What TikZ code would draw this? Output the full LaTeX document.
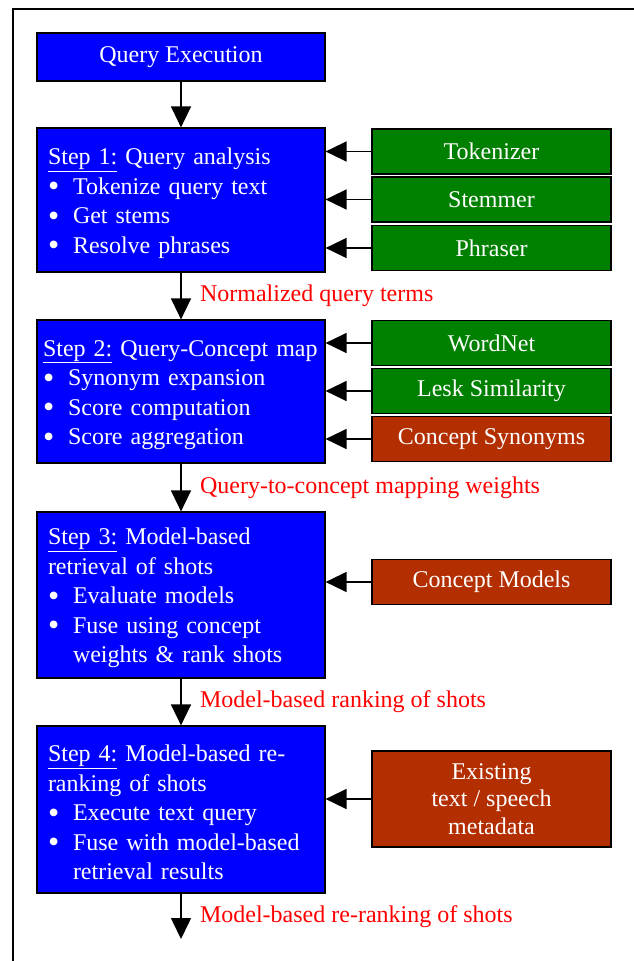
\documentclass[tikz,border=0pt]{standalone}
\usepackage{fontspec}
\setmainfont{Liberation Serif}
\usepackage{tikz}
\usetikzlibrary{arrows.meta,positioning}
\usepackage{xcolor}
\definecolor{stepblue}{RGB}{0,0,255}
\definecolor{toolgreen}{RGB}{0,128,0}
\definecolor{datared}{RGB}{179,46,0}
\newcommand{\stp}[1]{\rule{0pt}{23pt}\underline{Step #1:}}
\newcommand{\itm}{\makebox[25pt][l]{\raisebox{-2.5pt}{\fontsize{32}{32}\selectfont\textbullet}}}
\newcommand{\ind}{\hspace*{25pt}}

\begin{document}
\begin{tikzpicture}[x=1pt, y=-1pt,
    font=\fontsize{24}{29.5}\selectfont,
    box/.style={draw, rectangle, line width=1.2pt, text=white},
    stepbox/.style={box, fill=stepblue, minimum width=288pt, text width=266pt, align=left},
    toolbox/.style={box, fill=toolgreen, minimum width=239pt, minimum height=45pt, align=center},
    databox/.style={box, fill=datared, minimum width=239pt, minimum height=45pt, align=center},
    flow/.style={-{Triangle[length=21pt, width=20pt]}, line width=1.5pt},
    lbl/.style={anchor=west, xshift=15pt, text=red}]
    \useasboundingbox (0,0) rectangle (634,961);
    \draw[line width=1.2pt] (13,9) rectangle (700,1000);

    \node[box, fill=stepblue, minimum width=288pt, minimum height=48pt] (exec) at (181,57) {Query Execution};
    \node[stepbox, minimum height=144pt] (s1) at (181,200) {\stp{1} Query analysis\\ \itm Tokenize query text\\ \itm Get stems\\ \itm Resolve phrases};
    \node[stepbox, text width=276pt, minimum height=143pt] (s2) at (181,391.5) {\stp{2} Query-Concept map\\ \itm Synonym expansion\\ \itm Score computation\\ \itm Score aggregation};
    \node[stepbox, minimum height=166pt] (s3) at (181,595) {\stp{3} Model-based\\ retrieval of shots\\ \itm Evaluate models\\ \itm Fuse using concept\\ \ind weights \& rank shots};
    \node[stepbox, minimum height=167pt] (s4) at (181,809.5) {\stp{4} Model-based re-\\ ranking of shots\\ \itm Execute text query\\ \itm Fuse with model-based\\ \ind retrieval results};
    \coordinate (end) at (181,939);

    \node[toolbox] (tok) at (491.5,151.5) {Tokenizer};
    \node[toolbox] (stem) at (491.5,199.5) {Stemmer};
    \node[toolbox] (phr) at (491.5,248) {Phraser};
    \node[toolbox] (wn) at (491.5,343) {WordNet};
    \node[toolbox] (lesk) at (491.5,391) {Lesk Similarity};
    \node[databox] (syn) at (491.5,439) {Concept Synonyms};
    \node[databox] (models) at (491.5,582) {Concept Models};
    \node[databox, minimum height=96pt, font=\fontsize{24}{27.5}\selectfont] (meta) at (491.5,799) {Existing\\ text / speech\\ metadata};

    \draw[flow] (exec) -- (s1);
    \draw[flow] (s1) -- node[lbl] {Normalized query terms} (s2);
    \draw[flow] (s2) -- node[lbl] {Query-to-concept mapping weights} (s3);
    \draw[flow] (s3) -- node[lbl] {Model-based ranking of shots} (s4);
    \draw[flow] (s4) -- node[lbl] {Model-based re-ranking of shots} (end);

    \draw[flow] (tok.west) -- (s1.east |- tok.west);
    \draw[flow] (stem.west) -- (s1.east |- stem.west);
    \draw[flow] (phr.west) -- (s1.east |- phr.west);
    \draw[flow] (wn.west) -- (s2.east |- wn.west);
    \draw[flow] (lesk.west) -- (s2.east |- lesk.west);
    \draw[flow] (syn.west) -- (s2.east |- syn.west);
    \draw[flow] (models.west) -- (s3.east |- models.west);
    \draw[flow] (meta.west) -- (s4.east |- meta.west);
\end{tikzpicture}
\end{document}
